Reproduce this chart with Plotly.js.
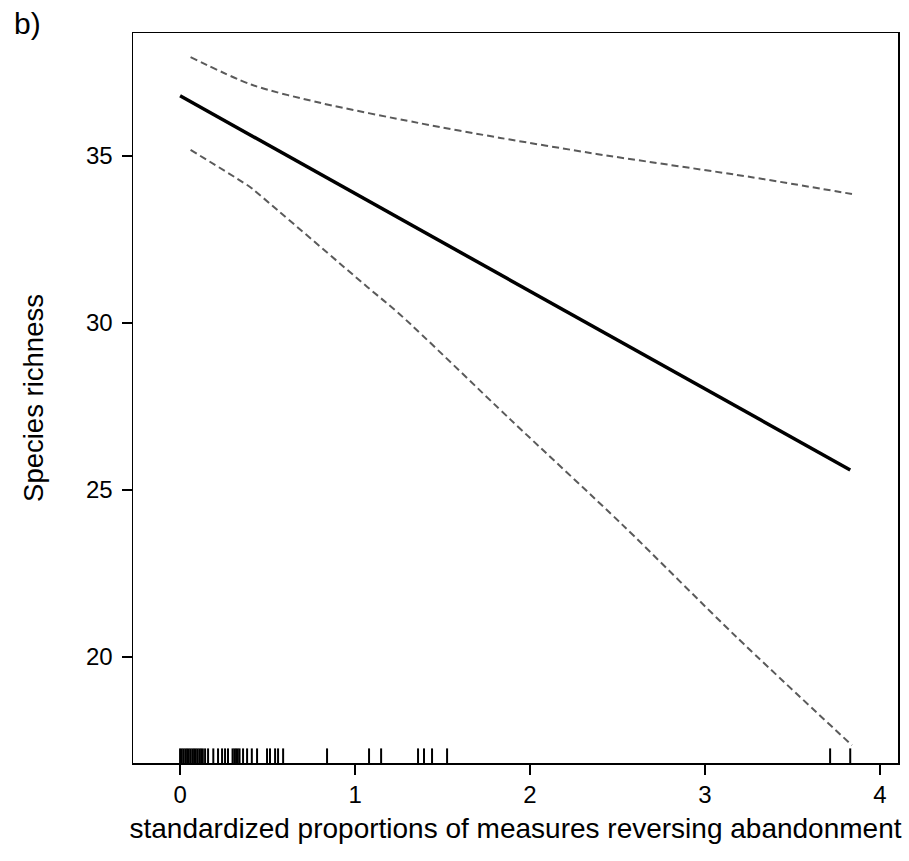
<!DOCTYPE html>
<html>
<head>
<meta charset="utf-8">
<script src="https://cdn.plot.ly/plotly-3.0.1.min.js"></script>
<style>html,body{margin:0;padding:0;background:#fff;}#chart{width:909px;height:861px;}</style>
</head>
<body>
<div id="chart"></div>
<script>
// Fitted effect (solid line)
const fitX = [0, 0.5, 1, 1.5, 2, 2.5, 3, 3.5, 3.83];
const fitY = [36.8, 35.34, 33.88, 32.41, 30.95, 29.49, 28.03, 26.57, 25.6];
// Upper confidence band (dashed)
const upperX = [0.06, 0.41, 0.8, 1.36, 1.83, 2.38, 2.53, 3.26, 3.84];
const upperY = [37.96, 37.13, 36.59, 35.99, 35.54, 35.06, 34.94, 34.37, 33.86];
// Lower confidence band (dashed)
const lowerX = [0.06, 0.40, 0.44, 1.07, 1.26, 1.89, 2.53, 3.18, 3.84];
const lowerY = [35.18, 34.07, 33.9, 31.08, 30.24, 27.1, 23.95, 20.6, 17.36];
// Rug of observed x values
const rugX = [0.0, 0.01, 0.02, 0.03, 0.04, 0.05, 0.06, 0.07, 0.08, 0.09, 0.10, 0.11, 0.12, 0.13,
  0.143, 0.16, 0.19, 0.217, 0.24, 0.257, 0.274, 0.30, 0.31, 0.32, 0.33, 0.34, 0.36, 0.383,
  0.41, 0.44, 0.497, 0.514, 0.543, 0.56, 0.589, 0.84, 1.08, 1.149, 1.36, 1.394, 1.44, 1.526,
  3.715, 3.83];
const xTicks = [0, 1, 2, 3, 4];
const yTicks = [20, 25, 30, 35];
const xTitle = "standardized proportions of measures reversing abandonment";
const yTitle = "Species richness";
const panelLabel = "b)";

const rugXs = [], rugYs = [];
rugX.forEach(v => { rugXs.push(v, v, null); rugYs.push(0, 0.02, null); });

const font = "Liberation Sans, Arial, sans-serif";
const traces = [
  {x: upperX, y: upperY, mode: 'lines', line: {color: '#5a5a5a', width: 2, dash: '7px,4px', shape: 'spline', smoothing: 0.8}, hoverinfo: 'skip'},
  {x: lowerX, y: lowerY, mode: 'lines', line: {color: '#5a5a5a', width: 2, dash: '7px,4px', shape: 'spline', smoothing: 0.8}, hoverinfo: 'skip'},
  {x: fitX, y: fitY, mode: 'lines', line: {color: '#000000', width: 3.5}, hoverinfo: 'skip'},
  {x: rugXs, y: rugYs, yaxis: 'y2', mode: 'lines', line: {color: '#000000', width: 2}, hoverinfo: 'skip', connectgaps: false}
];

const layout = {
  width: 909, height: 861,
  margin: {l: 133, r: 11, t: 33, b: 98, pad: 0},
  paper_bgcolor: '#ffffff', plot_bgcolor: '#ffffff',
  showlegend: false,
  font: {family: font, color: '#000000'},
  xaxis: {
    range: [-0.269, 4.103], tickvals: xTicks, ticktext: xTicks.map(String),
    ticks: 'outside', ticklen: 10, tickwidth: 1.5, tickcolor: '#000',
    showline: true, linecolor: '#000', linewidth: 1.5, mirror: true,
    showgrid: false, zeroline: false,
    tickfont: {size: 24, family: font, color: '#000'},
    title: {text: xTitle, font: {size: 28, family: font, color: '#000'}, standoff: 11}
  },
  yaxis: {
    range: [16.83, 38.68], tickvals: yTicks, ticktext: yTicks.map(String),
    ticks: 'outside', ticklen: 10, tickwidth: 1.5, tickcolor: '#000',
    showline: true, linecolor: '#000', linewidth: 1.5, mirror: true,
    showgrid: false, zeroline: false,
    tickfont: {size: 24, family: font, color: '#000'},
    ticklabelstandoff: 4,
    title: {text: yTitle, font: {size: 27.5, family: font, color: '#000'}, standoff: 34}
  },
  yaxis2: {
    overlaying: 'y', range: [0, 1], visible: false, fixedrange: true
  },
  annotations: [{
    text: panelLabel, xref: 'paper', yref: 'paper', x: -0.158, y: 1.013,
    xanchor: 'left', yanchor: 'middle', showarrow: false,
    font: {size: 30, family: font, color: '#000'}
  }]
};

Plotly.newPlot('chart', traces, layout, {displayModeBar: false, staticPlot: true});
</script>
</body>
</html>
